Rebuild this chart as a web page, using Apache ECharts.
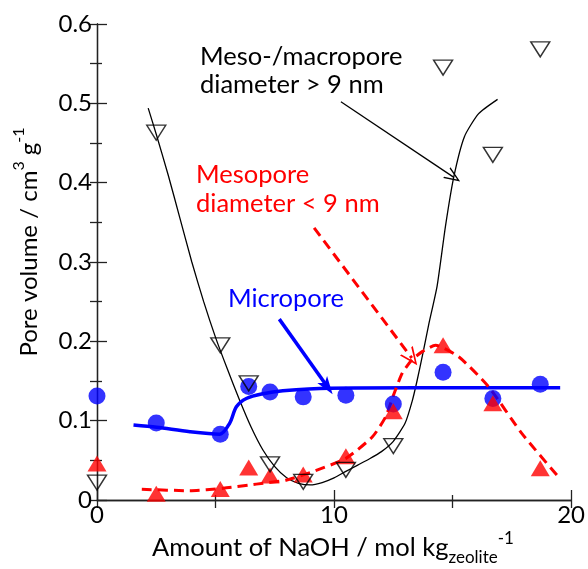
<!DOCTYPE html>
<html>
<head>
<meta charset="utf-8">
<script src="https://cdn.jsdelivr.net/npm/echarts@6/dist/echarts.min.js"></script>
<style>
  html, body { margin: 0; padding: 0; background: #fff; }
  #chart { width: 588px; height: 569px; }
</style>
</head>
<body>
<div id="chart"></div>
<script>
// NaOH amount (mol per kg zeolite) for each measured sample
const naoh = [0, 2.5, 5.2, 6.4, 7.3, 8.7, 10.5, 12.5, 14.6, 16.7, 18.7];

// Measured pore volumes (cm3 g-1)
const macroVol = [0.022, 0.463, 0.195, 0.147, 0.045, 0.023, 0.038, 0.068, 0.545, 0.435, 0.568];
const microVol = [0.131, 0.097, 0.083, 0.143, 0.136, 0.130, 0.132, 0.121, 0.161, 0.128, 0.146];
const mesoVol  = [0.046, 0.008, 0.014, 0.041, 0.031, 0.032, 0.055, 0.112, 0.195, 0.122, 0.040];

// Guide-to-the-eye trend curves, [NaOH, volume]
const macroTrend = [
  [2.16, 0.494], [2.49, 0.462], [3.0, 0.410], [3.5, 0.355], [4.0, 0.300],
  [4.5, 0.250], [5.0, 0.205], [5.5, 0.165], [6.0, 0.127], [6.5, 0.092],
  [7.0, 0.063], [7.5, 0.042], [8.0, 0.028], [8.5, 0.021], [9.0, 0.019],
  [9.5, 0.022], [10.0, 0.028], [10.5, 0.036], [11.0, 0.044], [11.5, 0.052],
  [12.0, 0.061], [12.5, 0.074], [13.0, 0.097], [13.3, 0.125], [13.5, 0.150],
  [13.75, 0.185], [14.0, 0.222], [14.35, 0.270], [14.7, 0.345], [15.05, 0.407],
  [15.5, 0.458], [16.1, 0.487], [16.9, 0.505]
];
const microTrend = [
  [1.54, 0.0945], [2.52, 0.0916], [3.92, 0.086], [5.18, 0.083], [5.6, 0.097],
  [5.88, 0.1175], [6.30, 0.128], [7.0, 0.134], [7.84, 0.1377], [9.8, 0.141],
  [13.5, 0.1415], [19.54, 0.1415]
];
const mesoTrend = [
  [1.89, 0.0135], [3.92, 0.0117], [5.32, 0.0147], [6.72, 0.020], [7.98, 0.025],
  [9.1, 0.0357], [10.5, 0.0525], [11.62, 0.0797], [12.18, 0.105], [12.53, 0.134],
  [12.88, 0.160], [13.3, 0.177], [13.72, 0.187], [14.28, 0.195], [15.26, 0.1805],
  [16.52, 0.1427], [17.92, 0.084], [19.47, 0.029]
];

// Annotation arrows, [from, to] in data units
const macroArrow = [[10.29, 0.502], [15.04, 0.407]];
const mesoArrow  = [[9.16, 0.343], [13.28, 0.179]];
const microArrow = [[7.69, 0.228], [9.72, 0.1427]];

const xTicks = [0, 10, 20];
const yTicks = [0, 0.1, 0.2, 0.3, 0.4, 0.5, 0.6];

const FONT = 'Lato, "Open Sans", sans-serif';
const AXIS = '#222';
const RED = '#ff0000';
const BLUE = '#0000ff';

const pairs = (ys) => naoh.map((x, i) => [x, ys[i]]);
const openV = 'path://M5,0 L10,10 L8.8,10 L5,2.2 L1.2,10 L0,10 Z';
const arrowLine = (seg, color, width, type, sym, size) => ({
  silent: true,
  symbol: ['none', sym],
  symbolSize: size,
  label: { show: false },
  lineStyle: { color: color, width: width, type: type },
  data: [[{ coord: seg[0] }, { coord: seg[1] }]]
});

const chart = echarts.init(document.getElementById('chart'), null, { renderer: 'canvas' });

chart.setOption({
  animation: false,
  backgroundColor: '#fff',
  grid: { left: 97, right: 15, top: 24, bottom: 69 },
  xAxis: [{
    type: 'value', min: 0, max: 20, interval: 10, position: 'bottom',
    axisLine: { show: true, lineStyle: { color: AXIS, width: 1.3 } },
    axisTick: { show: true, inside: true, length: 10, lineStyle: { color: AXIS, width: 1.3 } },
    minorTick: { show: true, splitNumber: 2, length: 5, lineStyle: { color: AXIS, width: 1.3 } },
    splitLine: { show: false },
    axisLabel: {
      margin: 3, color: '#000', fontFamily: FONT, fontSize: 24,
      formatter: (v) => xTicks.includes(v) ? String(v) : ''
    }
  }, {
    type: 'value', min: 0, max: 20, interval: 5, position: 'top',
    axisLine: { show: true, lineStyle: { color: AXIS, width: 1.3 } },
    axisTick: { show: true, inside: true, length: 8, lineStyle: { color: AXIS, width: 1.3 } },
    splitLine: { show: false },
    axisLabel: { show: false }
  }],
  yAxis: [{
    type: 'value', min: 0, max: 0.6, interval: 0.1, position: 'left',
    axisLine: { show: true, lineStyle: { color: AXIS, width: 1.3 } },
    axisTick: { show: true, inside: true, length: 10, lineStyle: { color: AXIS, width: 1.3 } },
    minorTick: { show: true, splitNumber: 2, length: 5, lineStyle: { color: AXIS, width: 1.3 } },
    splitLine: { show: false },
    axisLabel: {
      margin: 5, color: '#000', fontFamily: FONT, fontSize: 24,
      formatter: (v) => {
        const t = yTicks.find((k) => Math.abs(k - v) < 1e-9);
        return t === undefined ? '' : (t === 0 ? '0' : t.toFixed(1));
      }
    }
  }, {
    type: 'value', min: 0, max: 0.6, interval: 0.05, position: 'right',
    axisLine: { show: true, lineStyle: { color: AXIS, width: 1.3 } },
    axisTick: { show: true, inside: true, length: 7, lineStyle: { color: AXIS, width: 1.3 } },
    splitLine: { show: false },
    axisLabel: { show: false }
  }],
  series: [
    {
      name: 'macro trend', type: 'line', data: macroTrend, smooth: 0.2,
      showSymbol: false, symbol: 'none', z: 2,
      lineStyle: { color: '#000', width: 1.3 },
      markLine: arrowLine(macroArrow, '#000', 1.3, 'solid', openV, [13, 16])
    },
    {
      name: 'micro trend', type: 'line', data: microTrend, smooth: 0.3,
      showSymbol: false, symbol: 'none', z: 3,
      lineStyle: { color: BLUE, width: 3.5 },
      markLine: arrowLine(microArrow, BLUE, 3.5, 'solid', 'path://M5,0 L10,12 L5,9 L0,12 Z', [12, 18])
    },
    {
      name: 'meso trend', type: 'line', data: mesoTrend, smooth: 0.2,
      showSymbol: false, symbol: 'none', z: 3,
      lineStyle: { color: RED, width: 3, type: [10, 6] },
      markLine: arrowLine(mesoArrow, RED, 3, [10, 6], openV, [16, 18])
    },
    {
      name: 'Micropore', type: 'scatter', data: pairs(microVol), z: 4,
      symbol: 'circle', symbolSize: 17,
      itemStyle: { color: BLUE }
    },
    {
      name: 'Mesopore', type: 'scatter', data: pairs(mesoVol), z: 5,
      symbol: 'triangle', symbolSize: [19, 16],
      itemStyle: { color: RED }
    },
    {
      name: 'Meso-/macropore', type: 'scatter', data: pairs(macroVol), z: 6,
      symbol: 'triangle', symbolRotate: 180, symbolSize: [19, 15],
      itemStyle: { color: 'rgba(0,0,0,0)', borderColor: '#000', borderWidth: 1.4 }
    }
  ],
  graphic: [
    {
      type: 'text', left: 200, top: 43, silent: true,
      style: {
        text: 'Meso-/macropore\ndiameter > 9 nm', fill: '#000',
        font: '25.5px ' + FONT, lineHeight: 28
      }
    },
    {
      type: 'text', left: 196, top: 161, silent: true,
      style: {
        text: 'Mesopore\ndiameter < 9 nm', fill: RED,
        font: '25.5px ' + FONT, lineHeight: 28.5
      }
    },
    {
      type: 'text', left: 228, top: 286, silent: true,
      style: { text: 'Micropore', fill: BLUE, font: '25.5px ' + FONT }
    },
    {
      type: 'text', x: 333, y: 548, silent: true,
      style: {
        text: '{m|Amount of NaOH / mol kg}{b|zeolite}{p|-1}',
        align: 'center', verticalAlign: 'middle',
        rich: {
          m: { fontFamily: FONT, fontSize: 25.5, lineHeight: 36, fill: '#000' },
          b: { fontFamily: FONT, fontSize: 17, lineHeight: 19, verticalAlign: 'bottom', fill: '#000' },
          p: { fontFamily: FONT, fontSize: 17, lineHeight: 8, verticalAlign: 'top', fill: '#000' }
        }
      }
    },
    {
      type: 'text', x: 29, y: 242, rotation: Math.PI / 2, silent: true,
      style: {
        text: '{m|Pore volume / cm}{p|3}{m| g}{p|-1}',
        align: 'center', verticalAlign: 'middle',
        rich: {
          m: { fontFamily: FONT, fontSize: 24, lineHeight: 36, fill: '#000' },
          p: { fontFamily: FONT, fontSize: 16, lineHeight: 9, verticalAlign: 'top', fill: '#000' }
        }
      }
    }
  ]
});
</script>
</body>
</html>
